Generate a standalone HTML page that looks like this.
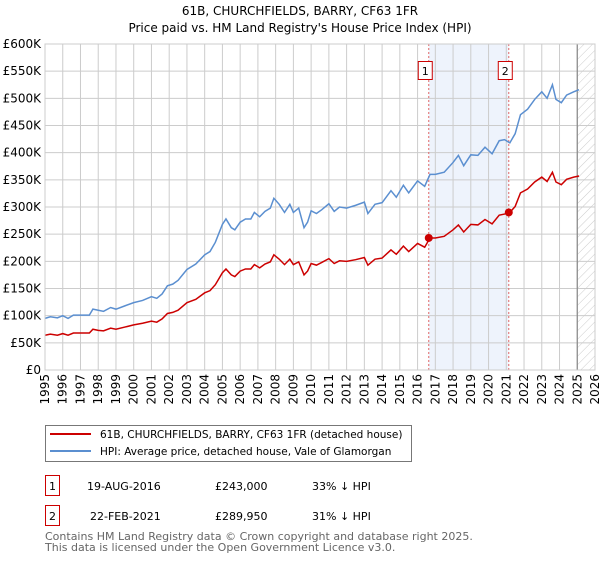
<!DOCTYPE html>
<html><head><meta charset="utf-8"><style>
body{margin:0;background:#fff;font-family:"Liberation Sans","DejaVu Sans",sans-serif;}
svg text{font-family:"DejaVu Sans","Liberation Sans",sans-serif;}
</style></head><body>
<svg id="chart" width="600" height="560" viewBox="0 0 600 560">
<defs>
<pattern id="hatch" patternUnits="userSpaceOnUse" width="6" height="6" patternTransform="rotate(45)">
<line x1="0" y1="0" x2="0" y2="6" stroke="#ccc" stroke-width="1"/></pattern>
</defs>
<text x="300" y="15" text-anchor="middle" font-size="12">61B, CHURCHFIELDS, BARRY, CF63 1FR</text>
<text x="300" y="32" text-anchor="middle" font-size="12">Price paid vs. HM Land Registry's House Price Index (HPI)</text>
<g id="plot"></g>
<g>
<rect x="45.5" y="425.5" width="366" height="36" fill="#fff" stroke="#777"/>
<line x1="50" y1="434" x2="91" y2="434" stroke="#cc0000" stroke-width="2"/>
<text x="100" y="438" font-size="10.5">61B, CHURCHFIELDS, BARRY, CF63 1FR (detached house)</text>
<line x1="50" y1="451" x2="91" y2="451" stroke="#5b8fd0" stroke-width="2"/>
<text x="100" y="455" font-size="10.5">HPI: Average price, detached house, Vale of Glamorgan</text>
</g>
<g font-size="11">
<rect x="45.5" y="475.5" width="14" height="20" fill="#fff" stroke="#cc0000"/>
<text x="52.5" y="490" text-anchor="middle">1</text>
<text x="87" y="490">19-AUG-2016</text><text x="215" y="490">£243,000</text><text x="312" y="490">33% ↓ HPI</text>
<rect x="45.5" y="505.5" width="14" height="20" fill="#fff" stroke="#cc0000"/>
<text x="52.5" y="520" text-anchor="middle">2</text>
<text x="90" y="520">22-FEB-2021</text><text x="215" y="520">£289,950</text><text x="312" y="520">31% ↓ HPI</text>
</g>
<text x="45" y="540" font-size="11" fill="#666">Contains HM Land Registry data © Crown copyright and database right 2025.</text>
<text x="45" y="551" font-size="11" fill="#666">This data is licensed under the Open Government Licence v3.0.</text>
</svg>
<script>
const years=[1995,1995.3,1995.7,1996,1996.3,1996.6,1997,1997.5,1997.7,1998,1998.3,1998.7,1999,1999.5,2000,2000.5,2001,2001.3,2001.6,2001.9,2002.2,2002.5,2003,2003.5,2004,2004.3,2004.6,2005,2005.2,2005.5,2005.7,2006,2006.3,2006.6,2006.8,2007.1,2007.4,2007.7,2007.9,2008.2,2008.5,2008.8,2009,2009.3,2009.6,2009.8,2010,2010.3,2010.6,2011,2011.3,2011.6,2012,2012.5,2013,2013.2,2013.6,2014,2014.5,2014.8,2015.2,2015.5,2016,2016.4,2016.7,2017,2017.5,2018,2018.3,2018.6,2019,2019.4,2019.8,2020.2,2020.6,2020.9,2021.2,2021.5,2021.8,2022.2,2022.6,2023,2023.3,2023.6,2023.8,2024.1,2024.4,2024.8,2025.1];
const hpiValues=[95,98,96,100,95,101,101,101,112,110,108,115,112,118,124,128,135,132,140,155,158,165,185,195,212,218,235,268,278,262,258,272,278,278,290,282,292,298,316,305,290,305,290,298,262,272,293,288,295,306,292,300,298,303,309,288,305,308,330,318,340,326,348,338,360,360,364,382,395,376,396,395,410,398,422,424,418,435,470,480,498,512,500,525,498,492,506,512,516];
const priceValues=[64,66,64,67,64,68,68,68,75,73,72,77,75,79,83,86,90,88,94,104,106,110,124,130,142,146,157,179,186,175,172,182,186,186,194,188,195,199,212,204,194,204,194,199,175,182,196,193,198,205,196,201,200,203,207,193,204,206,221,213,228,218,233,226,243,243,246,258,267,254,268,267,277,269,285,287,290,301,326,333,346,355,347,364,346,341,351,355,357];
const saleDates=[2016.63,2021.14];
const salePrices=[243,289.95];
const saleLabels=["1","2"];
const yTicks=[0,50,100,150,200,250,300,350,400,450,500,550,600];
const yTickLabels=["£0","£50K","£100K","£150K","£200K","£250K","£300K","£350K","£400K","£450K","£500K","£550K","£600K"];
const xTicks=[1995,1996,1997,1998,1999,2000,2001,2002,2003,2004,2005,2006,2007,2008,2009,2010,2011,2012,2013,2014,2015,2016,2017,2018,2019,2020,2021,2022,2023,2024,2025,2026];
const dataEnd=2025.0;

const NS="http://www.w3.org/2000/svg";
const L=45,R=595,T=44,B=370;
const sx=y=>L+(y-1995)/(2026-1995)*(R-L);
const sy=v=>B-v/600*(B-T);
const g=document.getElementById('plot');
function mk(tag,attrs,parent){const e=document.createElementNS(NS,tag);for(const k in attrs)e.setAttribute(k,attrs[k]);(parent||g).appendChild(e);return e;}

const bg=mk('rect',{x:L,y:T,width:R-L,height:B-T,fill:'#fff'});


const shade=mk('rect',{x:sx(saleDates[0]),y:T,width:sx(saleDates[1])-sx(saleDates[0]),height:B-T,fill:'#eef3fc'});


const hatch=mk('rect',{x:sx(dataEnd),y:T,width:R-sx(dataEnd),height:B-T,fill:'url(#hatch)'});


yTicks.forEach((v,i)=>{
  const ln=mk('line',{x1:L,x2:R,y1:sy(v),y2:sy(v),stroke:'#ccc','stroke-width':1});
  
  
  const t=mk('text',{x:L-4,y:sy(v)+4,'text-anchor':'end','font-size':12});
  t.textContent=yTickLabels[i];
  
  
});
xTicks.forEach(yr=>{
  const ln=mk('line',{x1:sx(yr),x2:sx(yr),y1:T,y2:B,stroke:'#ccc','stroke-width':1});
  
  
  const t=mk('text',{x:0,y:0,'text-anchor':'end','font-size':12,transform:`translate(${sx(yr)+4},${B+4}) rotate(-90)`});
  t.textContent=yr;
  
  
});
const endLine=mk('line',{x1:sx(dataEnd),x2:sx(dataEnd),y1:T,y2:B,stroke:'#888','stroke-width':1.2});


saleDates.forEach((d,i)=>{
  const ln=mk('line',{x1:sx(d),x2:sx(d),y1:T,y2:B,stroke:'#e06666','stroke-width':1,'stroke-dasharray':'2,2'});
  
  
  const bx=mk('rect',{x:sx(d)-10.5,y:61.5,width:14,height:18,fill:'#fff',stroke:'#cc0000'});
  
  
  const t=mk('text',{x:sx(d)-3.5,y:75,'text-anchor':'middle','font-size':11});
  t.textContent=saleLabels[i];
  
  
});
const hp=mk('polyline',{points:years.map((y,i)=>sx(y)+','+sy(hpiValues[i])).join(' '),fill:'none',stroke:'#5b8fd0','stroke-width':1.5});


const pp=mk('polyline',{points:years.map((y,i)=>sx(y)+','+sy(priceValues[i])).join(' '),fill:'none',stroke:'#cc0000','stroke-width':1.5});


saleDates.forEach((d,i)=>{
  const c=mk('circle',{cx:sx(d),cy:sy(salePrices[i]),r:4,fill:'#cc0000'});
  
  
});
const border=mk('rect',{x:L,y:T,width:R-L,height:B-T,fill:'none',stroke:'#ccc'});


</script>
</body></html>
